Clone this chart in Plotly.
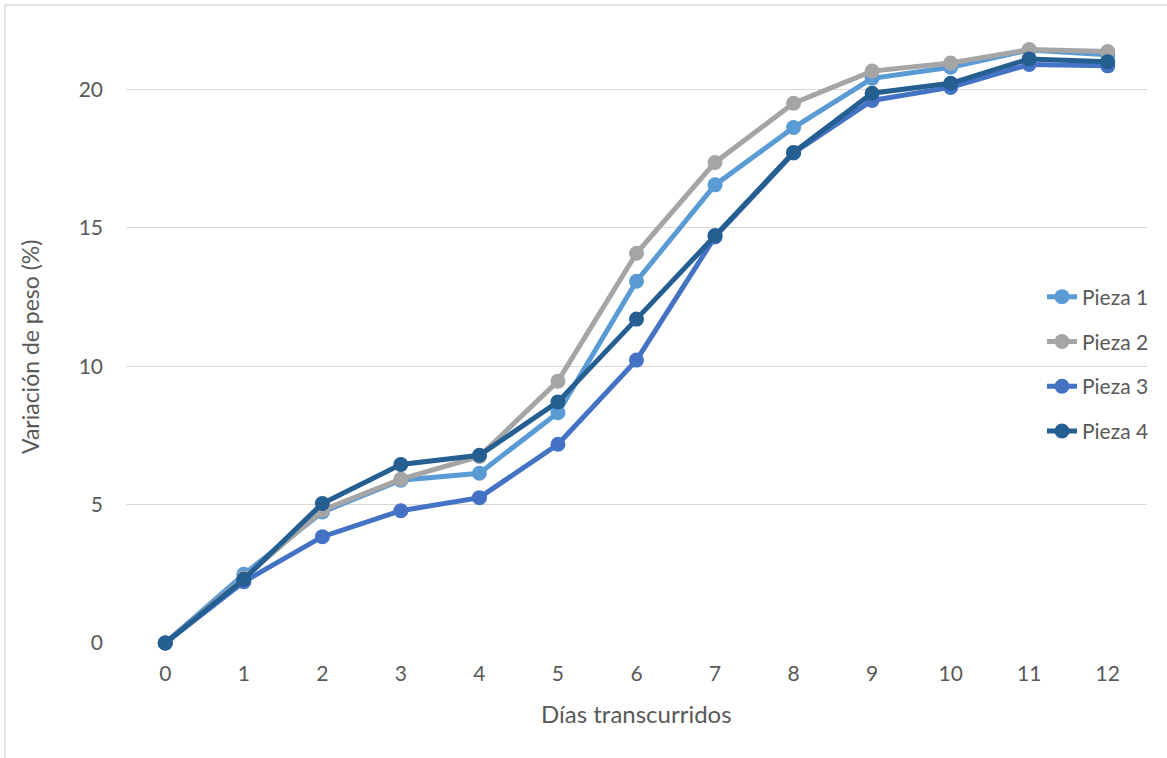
import plotly.graph_objects as go

# Días transcurridos y variación de peso (%) por pieza
dias = [0, 1, 2, 3, 4, 5, 6, 7, 8, 9, 10, 11, 12]
pieza_1 = [0, 2.48, 4.73, 5.88, 6.13, 8.32, 13.07, 16.55, 18.62, 20.40, 20.80, 21.42, 21.25]
pieza_2 = [0, 2.35, 4.80, 5.92, 6.74, 9.46, 14.08, 17.36, 19.50, 20.66, 20.95, 21.44, 21.37]
pieza_3 = [0, 2.21, 3.84, 4.78, 5.25, 7.18, 10.22, 14.67, 17.70, 19.60, 20.07, 20.90, 20.85]
pieza_4 = [0, 2.30, 5.04, 6.45, 6.78, 8.71, 11.70, 14.72, 17.72, 19.86, 20.22, 21.10, 21.00]

series = [
    ("Pieza 1", pieza_1, "#5B9BD5"),
    ("Pieza 2", pieza_2, "#A5A5A5"),
    ("Pieza 3", pieza_3, "#4472C4"),
    ("Pieza 4", pieza_4, "#255E91"),
]

W, H = 1167, 758
M_L, M_R, M_T, M_B = 126, 20, 34, 115
Y_MAX = 22.0

TEXT = "#595959"
GRID = "#D9D9D9"
FONT = "Lato"

fig = go.Figure()
for name, vals, color in series:
    fig.add_trace(go.Scatter(
        x=dias, y=vals, name=name, mode="lines+markers",
        legendgroup=name,
        line=dict(color=color, width=5),
        marker=dict(color=color, size=15),
        cliponaxis=False,
    ))

plot_h = H - M_T - M_B
plot_w = W - M_L - M_R

fig.update_layout(
    width=W, height=H,
    margin=dict(l=M_L, r=M_R, t=M_T, b=M_B),
    paper_bgcolor="white", plot_bgcolor="white",
    font=dict(family=FONT, color=TEXT, size=21),
    showlegend=True,
    legend=dict(
        x=1.0 - (1147 - 1042) / plot_w, xanchor="left",
        y=(643 - 364) / plot_h, yanchor="middle",
        font=dict(family=FONT, size=21, color=TEXT),
        tracegroupgap=14.5,
        bgcolor="rgba(0,0,0,0)",
    ),
    xaxis=dict(
        range=[-0.5, 12.5], tickmode="array", tickvals=dias,
        ticktext=[str(d) for d in dias],
        showgrid=False, zeroline=False, showline=False,
        ticks="", ticklabelstandoff=16,
        tickfont=dict(family=FONT, size=21, color=TEXT),
        fixedrange=True,
    ),
    yaxis=dict(
        range=[0, Y_MAX], tickmode="array", tickvals=[0, 5, 10, 15, 20],
        showgrid=True, gridcolor=GRID, gridwidth=1.3,
        zeroline=False, showline=False, ticks="", ticklabelstandoff=22,
        tickfont=dict(family=FONT, size=21, color=TEXT),
        fixedrange=True,
    ),
    annotations=[
        dict(text="Días transcurridos", xref="paper", yref="paper",
             x=0.5, y=-(713 - 643) / plot_h, xanchor="center", yanchor="middle",
             showarrow=False, font=dict(family=FONT, size=24, color=TEXT)),
        dict(text="Variación de peso (%)", xref="paper", yref="paper",
             x=-(M_L - 30) / plot_w, y=(643 - 347) / plot_h,
             xanchor="center", yanchor="middle", textangle=-90,
             showarrow=False, font=dict(family=FONT, size=23, color=TEXT)),
    ],
    shapes=[
        # chart frame: left and top edges
        dict(type="line", xref="paper", yref="paper",
             x0=-(M_L - 5) / plot_w, x1=-(M_L - 5) / plot_w,
             y0=(643 - 5) / plot_h, y1=-(H + 10 - 643) / plot_h,
             line=dict(color=GRID, width=1.5)),
        dict(type="line", xref="paper", yref="paper",
             x0=-(M_L - 5) / plot_w, x1=(W + 10 - M_L) / plot_w,
             y0=(643 - 5) / plot_h, y1=(643 - 5) / plot_h,
             line=dict(color=GRID, width=1.5)),
    ],
)

fig.write_html("out.html")
